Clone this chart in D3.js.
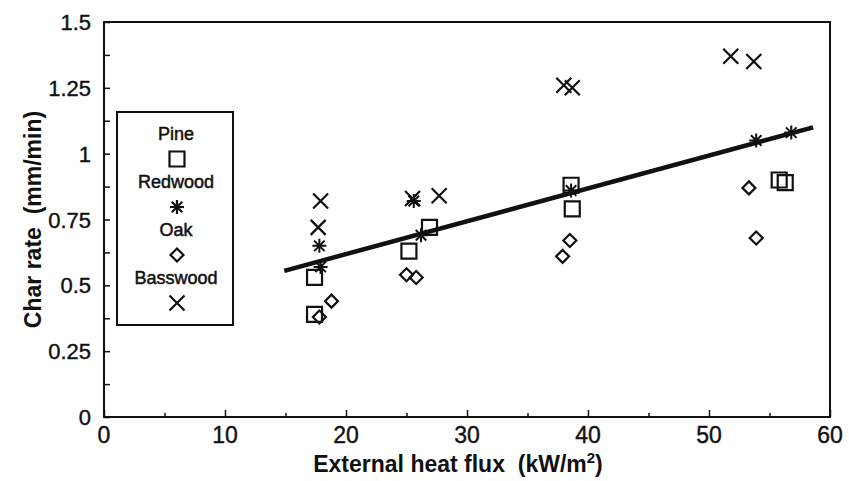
<!DOCTYPE html>
<html lang="en">
<head>
    <meta charset="utf-8">
    <script src="https://d3js.org/d3.v7.min.js"></script>
    <style>
        body { margin: 0; background: #fff; }
        text { font-family: "Liberation Sans", Arial, sans-serif; fill: #111; white-space: pre; }
    </style>
</head>
<body>
    <script>
        // chart size
        let w = 849;
        let h = 481;

        // data
        let pineX = [17.4, 17.4, 25.2, 26.9, 38.6, 38.7, 55.8, 56.3];
        let pineY = [0.53, 0.39, 0.63, 0.72, 0.88, 0.79, 0.90, 0.89];

        let redwoodX = [17.8, 17.9, 25.6, 26.2, 38.6, 53.9, 56.8];
        let redwoodY = [0.65, 0.57, 0.82, 0.69, 0.86, 1.05, 1.08];

        let oakX = [18.8, 17.8, 25.0, 25.8, 38.5, 37.9, 53.3, 53.9];
        let oakY = [0.44, 0.38, 0.54, 0.53, 0.67, 0.61, 0.87, 0.68];

        let basswoodX = [17.9, 17.7, 25.5, 27.7, 38.0, 38.7, 51.8, 53.7];
        let basswoodY = [0.82, 0.72, 0.83, 0.84, 1.26, 1.25, 1.37, 1.35];

        // fitted line end points
        let fitX = [14.9, 58.6];
        let fitY = [0.555, 1.10];

        let xTicks = [0, 10, 20, 30, 40, 50, 60];
        let yTicks = [0, 0.25, 0.5, 0.75, 1, 1.25, 1.5];
        let yTickLabels = ["0", "0.25", "0.5", "0.75", "1", "1.25", "1.5"];

        let legendNames = ["Pine", "Redwood", "Oak", "Basswood"];

        let margin = {left: 104, right: 19, top: 22, bottom: 64};

        let svg = d3.select("body").append("svg")
            .attr("width", w)
            .attr("height", h);

        let x = d3.scaleLinear().domain([0, 60]).range([margin.left, w - margin.right]);
        let y = d3.scaleLinear().domain([0, 1.5]).range([h - margin.bottom, margin.top]);

        // inward ticks, minor every half step
        let yAxis = d3.axisLeft(y)
            .tickValues(d3.range(0, 1.5001, 0.125))
            .tickSize(-6)
            .tickFormat("");
        let xAxis = d3.axisBottom(x)
            .tickValues(d3.range(0, 60.001, 5))
            .tickSize(-5)
            .tickFormat("");

        let gy = svg.append("g").attr("transform", "translate(" + margin.left + ",0)").call(yAxis);
        let gx = svg.append("g").attr("transform", "translate(0," + (h - margin.bottom) + ")").call(xAxis);
        [gy, gx].forEach(g => {
            g.select(".domain").remove();
            g.selectAll("line").attr("stroke", "#111").attr("stroke-width", 1.5);
        });
        gx.selectAll(".tick line").attr("y2", (d) => d % 10 === 0 ? -7 : -4);

        // frame
        svg.append("rect")
            .attr("x", margin.left)
            .attr("y", margin.top)
            .attr("width", w - margin.left - margin.right)
            .attr("height", h - margin.top - margin.bottom)
            .attr("fill", "none")
            .attr("stroke", "#111")
            .attr("stroke-width", 2);

        // tick labels
        svg.selectAll(".ylab")
            .data(yTicks)
            .join("text")
                .attr("class", "ylab")
                .attr("x", margin.left - 13)
                .attr("y", d => y(d) + 8)
                .attr("text-anchor", "end")
                .attr("font-size", "22px")
                .attr("stroke", "#111")
                .attr("stroke-width", 0.4)
                .text((d, i) => yTickLabels[i]);

        svg.selectAll(".xlab")
            .data(xTicks)
            .join("text")
                .attr("class", "xlab")
                .attr("x", d => x(d))
                .attr("y", h - margin.bottom + 26)
                .attr("text-anchor", "middle")
                .attr("font-size", "23px")
                .attr("stroke", "#111")
                .attr("stroke-width", 0.4)
                .text(d => d);

        // axis titles
        svg.append("text")
            .attr("transform", "translate(41," + ((margin.top + h - margin.bottom) / 2) + ") rotate(-90)")
            .attr("text-anchor", "middle")
            .attr("font-size", "23px")
            .attr("font-weight", "bold")
            .text("Char rate  (mm/min)");

        let xt = svg.append("text")
            .attr("x", 458)
            .attr("y", h - 9)
            .attr("text-anchor", "middle")
            .attr("font-size", "23px")
            .attr("font-weight", "bold")
            .text("External heat flux  (kW/m");
        xt.append("tspan").attr("dy", -9).attr("font-size", "15px").text("2");
        xt.append("tspan").attr("dy", 9).text(")");

        // symbols
        let symbolPath = {
            square: s => "M" + (-s) + "," + (-s) + "h" + (2 * s) + "v" + (2 * s) + "h" + (-2 * s) + "Z",
            diamond: s => "M0," + (-s) + "L" + s + ",0L0," + s + "L" + (-s) + ",0Z",
            cross: s => "M" + (-s) + "," + (-s) + "L" + s + "," + s + "M" + s + "," + (-s) + "L" + (-s) + "," + s,
            star: s => "M" + (-s) + ",0H" + s + "M0," + (-s) + "V" + s +
                "M" + (-s * 0.75) + "," + (-s * 0.75) + "L" + (s * 0.75) + "," + (s * 0.75) +
                "M" + (s * 0.75) + "," + (-s * 0.75) + "L" + (-s * 0.75) + "," + (s * 0.75)
        };

        let series = [
            {xs: pineX, ys: pineY, shape: "square", size: 7.5, sw: 2.2},
            {xs: redwoodX, ys: redwoodY, shape: "star", size: 7, sw: 2},
            {xs: oakX, ys: oakY, shape: "diamond", size: 6.5, sw: 2.2},
            {xs: basswoodX, ys: basswoodY, shape: "cross", size: 7.5, sw: 2.2}
        ];

        // fitted line
        svg.append("path")
            .datum(d3.zip(fitX, fitY))
            .attr("d", d3.line().x(d => x(d[0])).y(d => y(d[1])))
            .attr("fill", "none")
            .attr("stroke", "#111")
            .attr("stroke-width", 4.5);

        series.forEach(s => {
            svg.append("g").selectAll("path")
                .data(d3.zip(s.xs, s.ys))
                .join("path")
                    .attr("transform", d => "translate(" + x(d[0]) + "," + y(d[1]) + ")")
                    .attr("d", symbolPath[s.shape](s.size))
                    .attr("fill", "none")
                    .attr("stroke", "#111")
                    .attr("stroke-width", s.sw);
        });

        // legend
        let lg = svg.append("g");
        lg.append("rect")
            .attr("x", 117).attr("y", 112)
            .attr("width", 116).attr("height", 213)
            .attr("fill", "#fff")
            .attr("stroke", "#111")
            .attr("stroke-width", 2);

        legendNames.forEach((name, i) => {
            let cy = 133 + i * 48;
            lg.append("text")
                .attr("x", 176).attr("y", cy + 7)
                .attr("text-anchor", "middle")
                .attr("font-size", "18px")
                .attr("stroke", "#111")
                .attr("stroke-width", 0.5)
                .text(name);
            lg.append("path")
                .attr("transform", "translate(177," + (cy + 26) + ")")
                .attr("d", symbolPath[series[i].shape](series[i].size))
                .attr("fill", "none")
                .attr("stroke", "#111")
                .attr("stroke-width", 2.2);
        });
    </script>
</body>
</html>
